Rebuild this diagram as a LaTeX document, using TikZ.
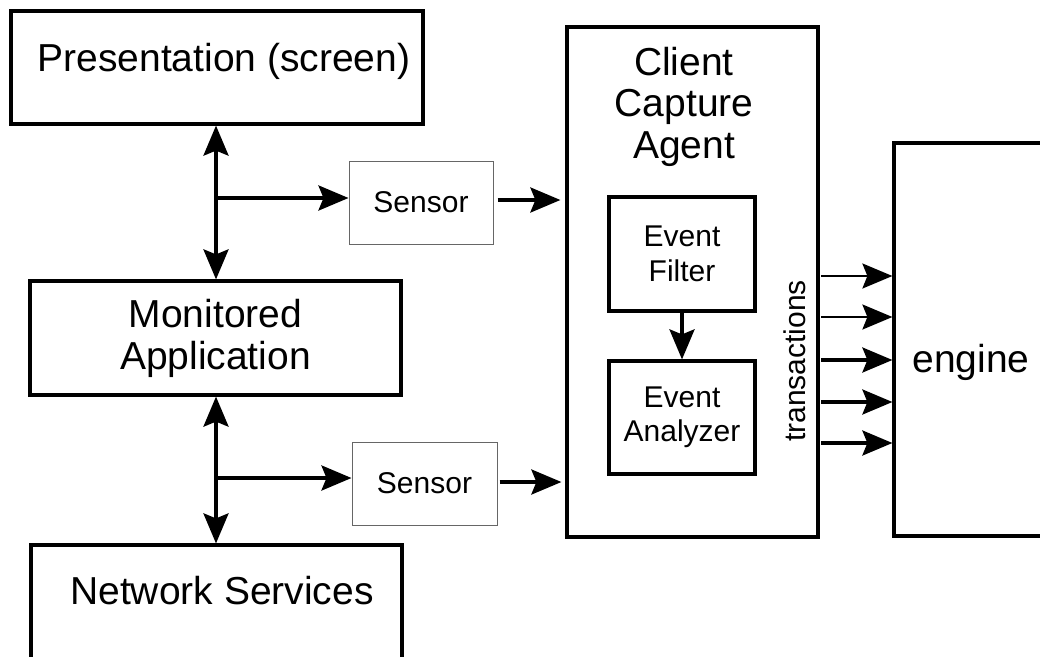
\documentclass[tikz,border=0pt]{standalone}
\usepackage{fontspec}
\setmainfont{Liberation Sans}
\usetikzlibrary{arrows.meta}
\newcommand\bigtext{\fontsize{39}{42}\selectfont}
\newcommand\smalltext{\fontsize{30}{34.5}\selectfont}
\begin{document}
\begin{tikzpicture}[x=1pt,y=-1pt,
  box/.style={draw, line width=3.2pt, inner sep=0pt, align=center},
  sensorbox/.style={draw=black!60, line width=1pt, inner sep=0pt, font=\smalltext},
  tip/.tip={Stealth[length=30pt,width=25pt,inset=5pt]},
  arr/.style={line width=3.5pt, -tip},
  darr/.style={line width=3.5pt, tip-tip},
  lbl/.style={inner sep=0pt}
]
\useasboundingbox (0,0) rectangle (1040,656);

% left column
\node[box, minimum width=412pt, minimum height=113pt] (pres) at (217,67.5) {};
\node[lbl, anchor=base, font=\bigtext] (prestext) at (224,71) {Presentation (screen)};
\node[box, minimum width=371pt, minimum height=114pt, font=\bigtext] (mon) at (215.5,338) {Monitored\\Application};
\node[box, minimum width=371pt, minimum height=125pt] (net) at (216.5,607.5) {};
\node[lbl, anchor=base, font=\bigtext] (nettext) at (222,604) {Network Services};

% sensors
\node[sensorbox, minimum width=144pt, minimum height=83pt] (s1) at (421,202.5) {Sensor};
\node[sensorbox, minimum width=145pt, minimum height=83pt] (s2) at (424.5,483.5) {Sensor};

% client capture agent
\node[box, minimum width=251pt, minimum height=510pt] (cca) at (692.5,282) {};
\node[lbl, anchor=north, align=center, font=\fontsize{39}{41.5}\selectfont] (ccatext) at (684,47) {Client\\Capture\\Agent};
\node[box, minimum width=146pt, minimum height=114pt, font=\smalltext] (filt) at (682,254) {Event\\Filter};
\node[box, minimum width=146pt, minimum height=113pt, font=\smalltext] (ana) at (682,417.5) {Event\\Analyzer};
\node[lbl, rotate=90, font=\smalltext] (trans) at (795,361) {transactions};

% engine
\node[box, minimum width=166pt, minimum height=393pt] (eng) at (977,339.5) {};
\node[lbl, anchor=base, font=\bigtext] (engtext) at (971,372) {engine};

% connectors
\coordinate (j1) at (216,198);
\coordinate (j2) at (216,478);
\coordinate (r1) at (0,200);
\coordinate (r2) at (0,482);
\draw[darr] (j1 |- pres.south) -- (j1 |- mon.north);
\draw[arr] (j1) -- (j1 -| s1.west);
\draw[darr] (j2 |- mon.south) -- (j2 |- net.north);
\draw[arr] (j2) -- (j2 -| s2.west);
\draw[arr, shorten <=4pt, shorten >=5pt] (s1.east |- r1) -- (cca.west |- r1);
\draw[arr, shorten <=2pt, shorten >=4pt] (s2.east |- r2) -- (cca.west |- r2);
\draw[arr] (filt.south) -- (ana.north);
\foreach \yy/\lw in {276/2.3,317/2.3,360/3.2,402/3.2,443/3.2}
  \draw[arr, line width=\lw pt, shorten <=1.5pt] (cca.east |- 0,\yy) -- (eng.west |- 0,\yy);
\end{tikzpicture}
\end{document}
